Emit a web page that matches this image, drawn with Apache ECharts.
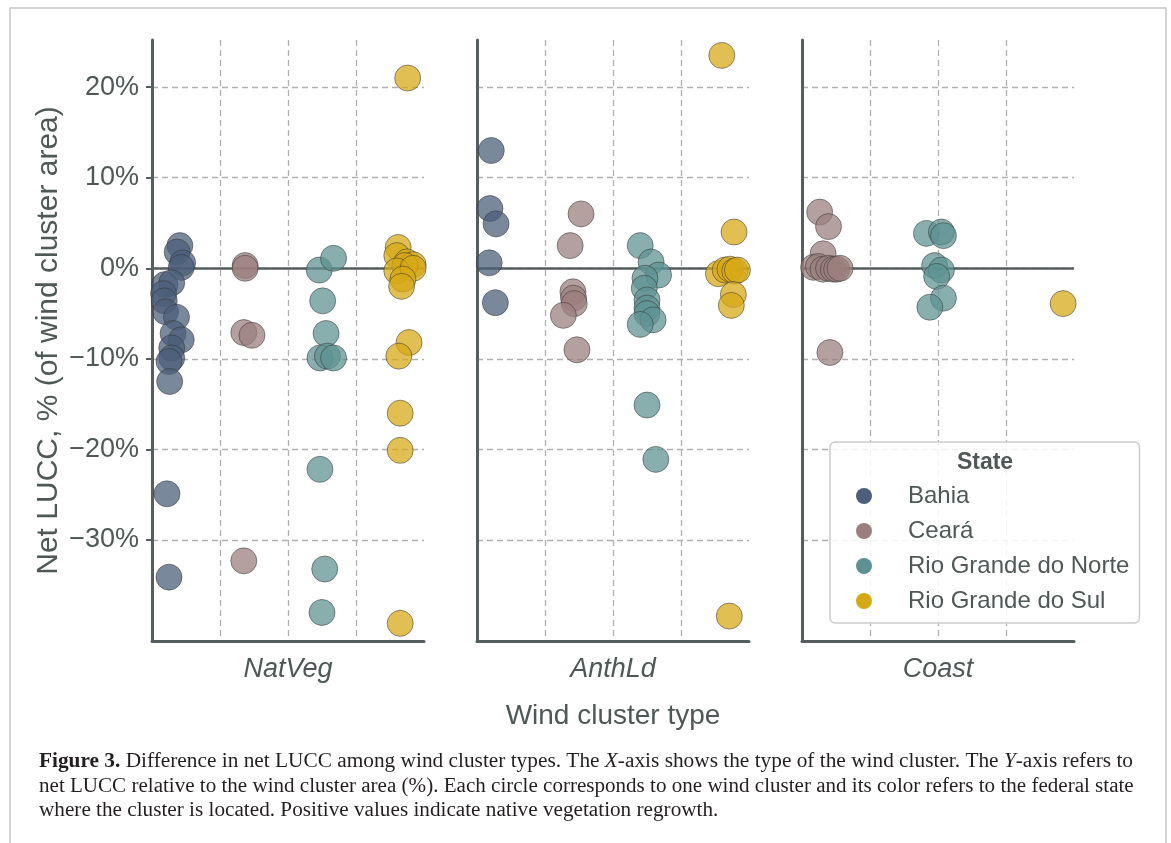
<!DOCTYPE html>
<html>
<head>
<meta charset="utf-8">
<script src="https://cdn.jsdelivr.net/npm/echarts@6/dist/echarts.min.js"></script>
<style>html,body{margin:0;padding:0;background:#fff;}#chart{width:1171px;height:843px;}</style>
</head>
<body>
<div id="chart"></div>
<script>
const states = ['Bahia', 'Ceará', 'Rio Grande do Norte', 'Rio Grande do Sul'];
const clusterTypes = ['NatVeg', 'AnthLd', 'Coast'];
const yTicks = [-30, -20, -10, 0, 10, 20];
const xGridTicks = [1, 2, 3];
const stateColors = ['#4b5e7a', '#9a7f7c', '#5e9292', '#d6a816'];

// each point: [strip position within panel, net LUCC %]
const natVegBahia = [[0.41,2.5],[0.37,1.8],[0.45,0.6],[0.43,0.1],[0.19,-1.8],[0.29,-1.6],[0.17,-2.8],[0.18,-3.6],[0.2,-4.8],[0.36,-5.4],[0.31,-7.2],[0.43,-7.9],[0.29,-8.8],[0.29,-9.9],[0.25,-10.3],[0.26,-12.5],[0.22,-24.9],[0.25,-34.1]];
const natVegCeara = [[1.37,0.3],[1.37,0.0],[1.35,-7.1],[1.47,-7.4],[1.35,-32.3]];
const natVegRGN = [[2.46,-0.2],[2.67,1.1],[2.51,-3.6],[2.56,-7.2],[2.47,-9.9],[2.58,-9.7],[2.67,-9.9],[2.47,-22.2],[2.54,-33.2],[2.5,-38.0]];
const natVegRGS = [[3.76,21.0],[3.62,2.3],[3.6,1.4],[3.75,0.7],[3.84,0.4],[3.72,0.3],[3.6,-0.3],[3.84,0.0],[3.69,-1.2],[3.67,-2.0],[3.78,-8.2],[3.63,-9.7],[3.65,-16.0],[3.65,-20.1],[3.65,-39.2]];

const anthLdBahia = [[0.21,13.0],[0.19,6.6],[0.28,4.9],[0.18,0.6],[0.27,-3.8]];
const anthLdCeara = [[1.53,6.0],[1.37,2.5],[1.41,-2.6],[1.42,-3.3],[1.43,-3.9],[1.27,-5.2],[1.47,-9.0]];
const anthLdRGN = [[2.4,2.5],[2.56,0.7],[2.67,-0.75],[2.47,-1.1],[2.46,-2.2],[2.5,-3.5],[2.5,-4.4],[2.5,-5.0],[2.59,-5.7],[2.4,-6.2],[2.5,-15.1],[2.63,-21.1]];
const anthLdRGS = [[3.6,23.5],[3.78,4.0],[3.55,-0.6],[3.65,-0.2],[3.72,-0.1],[3.79,-0.3],[3.83,-0.2],[3.77,-2.9],[3.74,-4.1],[3.71,-38.4]];

const coastBahia = [];
const coastCeara = [[0.26,6.2],[0.39,4.6],[0.31,1.6],[0.17,0.1],[0.24,0.2],[0.31,-0.1],[0.39,0.0],[0.46,-0.1],[0.51,-0.1],[0.56,0.0],[0.41,-9.3]];
const coastRGN = [[1.83,3.85],[2.05,4.0],[2.08,3.6],[1.95,0.3],[2.05,-0.2],[1.98,-0.9],[2.08,-3.3],[1.88,-4.3]];
const coastRGS = [[3.84,-3.9]];

const panelData = [
  [natVegBahia, natVegCeara, natVegRGN, natVegRGS],
  [anthLdBahia, anthLdCeara, anthLdRGN, anthLdRGS],
  [coastBahia, coastCeara, coastRGN, coastRGS]
];

const axisColor = '#555e5e';
const textColor = '#4f5757';
const gridColor = '#b0b0b0';
const captionColor = '#231f20';
const panelLefts = [152, 477, 802];

const grids = panelLefts.map(l => ({left: l, top: 40, width: 272, height: 601}));
const xAxes = clusterTypes.map((name, i) => ({
  type: 'value', gridIndex: i, min: 0, max: 4,
  name: name, nameLocation: 'middle', nameGap: 15,
  nameTextStyle: {fontSize: 27, fontStyle: 'italic', color: textColor, fontFamily: 'Liberation Sans'},
  axisLine: {show: true, onZero: false, lineStyle: {color: axisColor, width: 3}},
  axisTick: {show: false, customValues: xGridTicks},
  axisLabel: {show: false, customValues: xGridTicks},
  splitLine: {show: true, lineStyle: {color: gridColor, type: [6, 4], width: 1.3}}
}));
const yAxes = clusterTypes.map((name, i) => ({
  type: 'value', gridIndex: i, min: -41.15, max: 25.2,
  name: i === 0 ? 'Net LUCC, % (of wind cluster area)' : '',
  nameLocation: 'middle', nameGap: 88,
  nameTextStyle: {fontSize: 30, color: textColor, fontFamily: 'Liberation Sans'},
  axisLine: {show: true, onZero: false, lineStyle: {color: axisColor, width: 3}},
  axisTick: {show: i === 0, customValues: yTicks, length: 6, lineStyle: {color: axisColor, width: 2}},
  axisLabel: {show: i === 0, customValues: yTicks, formatter: v => (v < 0 ? '\u2212' + Math.abs(v) : v) + '%', fontSize: 27, color: textColor, margin: 13, fontFamily: 'Liberation Sans'},
  splitLine: {show: true, lineStyle: {color: gridColor, type: [6, 4], width: 1.3}}
}));

const series = [];
panelData.forEach((panel, p) => {
  panel.forEach((pts, s) => {
    const ser = {
      type: 'scatter', name: states[s], xAxisIndex: p, yAxisIndex: p,
      data: pts, symbolSize: 26, z: 3,
      itemStyle: {color: stateColors[s], opacity: 0.74, borderColor: '#333', borderWidth: 0.7}
    };
    if (s === 0) {
      ser.markLine = {
        silent: true, symbol: 'none', z: 1, animation: false,
        label: {show: false},
        lineStyle: {color: axisColor, type: 'solid', width: 2.5},
        data: [{yAxis: 0}]
      };
    }
    series.push(ser);
  });
});

const capFont = {fontSize: 20, fontFamily: 'Liberation Serif', fill: captionColor};
const option = {
  animation: false,
  backgroundColor: '#fff',
  grid: grids,
  xAxis: xAxes,
  yAxis: yAxes,
  series: series,
  legend: {
    data: states, orient: 'vertical', left: 830, top: 442,
    padding: [42, 10, 10, 26], itemGap: 11, itemWidth: 60, itemHeight: 16, icon: 'circle',
    backgroundColor: 'rgba(255,255,255,0.85)', borderColor: '#cccccc', borderWidth: 1.5, borderRadius: 5,
    itemStyle: {opacity: 1, borderWidth: 0},
    textStyle: {fontSize: 24, lineHeight: 24, color: textColor, padding: [0, 0, 0, 9], fontFamily: 'Liberation Sans'}
  },
  graphic: [
    {type: 'rect', shape: {x: 10, y: 8, width: 1156, height: 850}, style: {fill: 'none', stroke: '#c8c8c8', lineWidth: 1.5}, silent: true, z: 0},
    {type: 'text', x: 613, y: 716, style: {text: 'Wind cluster type', fontSize: 28, fill: textColor, fontFamily: 'Liberation Sans', textAlign: 'center', textVerticalAlign: 'middle'}},
    {type: 'text', x: 985, y: 463, style: {text: 'State', fontSize: 23, fontWeight: 'bold', fill: textColor, fontFamily: 'Liberation Sans', textAlign: 'center', textVerticalAlign: 'middle'}, z: 100},
    {type: 'text', x: 39, y: 762, scaleX: 1.066, style: {
      textVerticalAlign: 'middle',
      rich: {b: Object.assign({fontWeight: 'bold'}, capFont), i: Object.assign({fontStyle: 'italic'}, capFont), n: capFont},
      text: '{b|Figure 3.}{n| Difference in net LUCC among wind cluster types. The }{i|X}{n|-axis shows the type of the wind cluster. The }{i|Y}{n|-axis refers to}'
    }},
    {type: 'text', x: 39, y: 787, scaleX: 1.053, style: Object.assign({text: 'net LUCC relative to the wind cluster area (%). Each circle corresponds to one wind cluster and its color refers to the federal state', textVerticalAlign: 'middle'}, capFont)},
    {type: 'text', x: 39, y: 811, scaleX: 1.06, style: Object.assign({text: 'where the cluster is located. Positive values indicate native vegetation regrowth.', textVerticalAlign: 'middle'}, capFont)}
  ]
};

const chart = echarts.init(document.getElementById('chart'), null, {renderer: 'canvas'});
chart.setOption(option);
</script>
</body>
</html>
